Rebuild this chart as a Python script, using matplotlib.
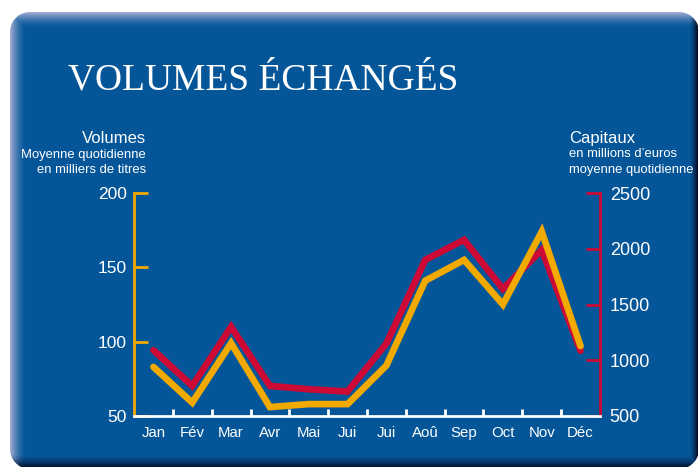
import numpy as np
import matplotlib
matplotlib.use("Agg")
import matplotlib.pyplot as plt

# monthly data
months = ["Jan", "Fév", "Mar", "Avr", "Mai", "Jui", "Jui", "Aoû", "Sep", "Oct", "Nov", "Déc"]
volumes = [83, 59, 99, 56, 58, 58, 84, 141, 155, 125, 174, 97]          # milliers de titres
capitaux = [1090, 770, 1300, 770, 740, 720, 1150, 1900, 2080, 1640, 1990, 1085]  # millions d'euros

vol_ticks = [50, 100, 150, 200]
cap_ticks = [500, 1000, 1500, 2000, 2500]

BLUE = np.array([0.02, 0.34, 0.60])
ORANGE = "#f2a900"
RED = "#cc0a35"
W, H = 698, 467

fig = plt.figure(figsize=(W / 100, H / 100), dpi=100)
fig.patch.set_facecolor("white")

# background panel with bevelled edges
yy, xx = np.mgrid[0:H, 0:W] + 0.5
x0, y0, x1, y1, r = 10, 12, 699, 469, 20
cx, cy = (x0 + x1) / 2, (y0 + y1) / 2
qx = np.abs(xx - cx) - ((x1 - x0) / 2 - r)
qy = np.abs(yy - cy) - ((y1 - y0) / 2 - r)
outside = np.hypot(np.maximum(qx, 0), np.maximum(qy, 0)) + np.minimum(np.maximum(qx, qy), 0) - r
alpha = np.clip(0.5 - outside, 0, 1)[..., None]

light = np.array([0.66, 0.69, 0.84])
dark = np.array([0.02, 0.07, 0.18])
w_light = np.maximum(np.clip(1 - (yy - y0) / 16, 0, 1), np.clip(1 - (xx - x0) / 16, 0, 1)) ** 1.6
w_dark = np.maximum(np.clip(1 - (y1 - 2 - yy) / 13, 0, 1), np.clip(1 - (x1 - 2 - xx) / 8, 0, 1)) ** 1.6
col = BLUE + (light - BLUE) * w_light[..., None]
col = col + (dark - col) * w_dark[..., None]
img = np.ones((H, W, 3)) * (1 - alpha) + col * alpha

bg = fig.add_axes([0, 0, 1, 1], zorder=-1)
bg.imshow(img, extent=[0, 1, 0, 1], aspect="auto", interpolation="bilinear")
bg.axis("off")

# chart axes
ax = fig.add_axes([134 / W, 1 - 416 / H, (600 - 134) / W, (416 - 193) / H])
ax2 = ax.twinx()
ax.set_zorder(ax2.get_zorder() + 1)
ax.patch.set_visible(False)
ax2.patch.set_visible(False)

x = np.arange(len(months)) + 0.5
ax2.plot(x, capitaux, color=RED, lw=4.8, solid_joinstyle="miter", solid_capstyle="round")
ax.plot(x, volumes, color=ORANGE, lw=4.8, solid_joinstyle="miter", solid_capstyle="round")

ax.set_xlim(0, 12)
ax.set_ylim(50, 200)
ax2.set_ylim(500, 2500)

for s in ["top", "right"]:
    ax.spines[s].set_visible(False)
for s in ["top", "left", "bottom"]:
    ax2.spines[s].set_visible(False)
ax.spines["left"].set_color(ORANGE)
ax.spines["left"].set_linewidth(2)
ax.spines["bottom"].set_color("white")
ax.spines["bottom"].set_linewidth(2)
ax2.spines["right"].set_color(RED)
ax2.spines["right"].set_linewidth(2)

ax.set_xticks(x)
ax.set_xticklabels(months)
ax.set_xticks(np.arange(1, 12), minor=True)
ax.tick_params(axis="x", which="major", length=0, pad=7, labelsize=10.8, labelcolor="white")
ax.tick_params(axis="x", which="minor", direction="in", length=5, width=2, color="white")

ax.set_yticks(vol_ticks)
ax.tick_params(axis="y", direction="in", length=10, width=2, color=ORANGE,
               labelsize=12.5, labelcolor="white", pad=5)
ax2.set_yticks(cap_ticks)
ax2.tick_params(axis="y", direction="in", length=10, width=2, color=RED,
                labelsize=13, labelcolor="white", pad=7)

for a in (ax, ax2):
    for lab in a.get_xticklabels() + a.get_yticklabels():
        lab.set_family("Liberation Sans")

# title and axis captions
fig.text(68 / W, 1 - 90 / H, "VOLUMES ÉCHANGÉS", family="Liberation Serif",
         fontsize=27, color="white", va="baseline", ha="left")

fig.text(146 / W, 1 - 143 / H, "Volumes", family="Liberation Sans", fontsize=12,
         color="white", ha="right", va="baseline")
fig.text(146 / W, 1 - 158 / H, "Moyenne quotidienne", family="Liberation Sans", fontsize=9.4,
         color="white", ha="right", va="baseline")
fig.text(146 / W, 1 - 173 / H, "en milliers de titres", family="Liberation Sans", fontsize=9.4,
         color="white", ha="right", va="baseline")

fig.text(569 / W, 1 - 143 / H, "Capitaux", family="Liberation Sans", fontsize=12,
         color="white", ha="left", va="baseline")
fig.text(569 / W, 1 - 157 / H, "en millions d’euros", family="Liberation Sans", fontsize=9.4,
         color="white", ha="left", va="baseline")
fig.text(569 / W, 1 - 173 / H, "moyenne quotidienne", family="Liberation Sans", fontsize=9.4,
         color="white", ha="left", va="baseline")

fig.savefig("out.png", dpi=100)
